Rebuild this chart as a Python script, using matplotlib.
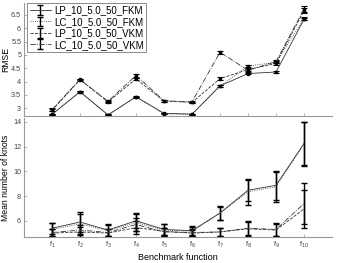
import matplotlib
matplotlib.use("Agg")
import matplotlib.pyplot as plt
import numpy as np

functions = ["f$_{1}$", "f$_{2}$", "f$_{3}$", "f$_{4}$", "f$_{5}$",
             "f$_{6}$", "f$_{7}$", "f$_{8}$", "f$_{9}$", "f$_{10}$"]
series_names = ["LP_10_5.0_50_FKM", "LC_10_5.0_50_FKM",
                "LP_10_5.0_50_VKM", "LC_10_5.0_50_VKM"]

rmse_lp_fkm = [2.77, 3.62, 2.75, 3.43, 2.81, 2.78, 3.84, 4.30, 4.36, 6.33]
rmse_lc_fkm = [2.77, 3.61, 2.75, 3.42, 2.79, 2.77, 3.83, 4.58, 4.72, 6.36]
rmse_lp_vkm = [2.92, 4.07, 3.24, 4.10, 3.27, 3.22, 4.11, 4.45, 4.68, 6.66]
rmse_lc_vkm = [2.95, 4.08, 3.26, 4.23, 3.28, 3.24, 5.10, 4.42, 4.75, 6.72]
rmse_err_lp_fkm = [0.02, 0.02, 0.02, 0.02, 0.02, 0.02, 0.03, 0.03, 0.03, 0.04]
rmse_err_lc_fkm = [0.02, 0.02, 0.02, 0.02, 0.02, 0.02, 0.03, 0.04, 0.04, 0.05]
rmse_err_lp_vkm = [0.04, 0.03, 0.03, 0.05, 0.03, 0.03, 0.05, 0.05, 0.05, 0.08]
rmse_err_lc_vkm = [0.05, 0.03, 0.04, 0.06, 0.03, 0.03, 0.06, 0.05, 0.05, 0.12]

knots_lp_fkm = [5.40, 5.90, 5.25, 6.00, 5.30, 5.20, 6.63, 8.47, 8.87, 12.25]
knots_lc_fkm = [5.30, 5.75, 5.20, 5.85, 5.25, 5.15, 6.60, 8.35, 8.75, 12.20]
knots_lp_vkm = [5.00, 5.10, 5.00, 5.45, 5.15, 5.00, 5.10, 5.35, 5.25, 6.96]
knots_lc_vkm = [5.05, 5.25, 5.05, 5.70, 5.10, 5.05, 5.10, 5.40, 5.30, 7.39]
knots_err_lp_fkm = [0.45, 0.80, 0.45, 0.60, 0.45, 0.35, 0.55, 0.85, 1.15, 1.75]
knots_err_lc_fkm = [0.50, 0.80, 0.45, 0.70, 0.45, 0.35, 0.50, 1.05, 1.20, 1.80]
knots_err_lp_vkm = [0.30, 0.40, 0.30, 0.50, 0.30, 0.25, 0.35, 0.55, 0.50, 1.55]
knots_err_lc_vkm = [0.30, 0.40, 0.30, 0.50, 0.30, 0.25, 0.30, 0.55, 0.50, 1.65]

x = np.arange(1, len(functions) + 1)
styles = ["-", ":", "--", "-."]

plt.rcParams['font.family'] = ['Liberation Sans', 'DejaVu Sans']
fig = plt.figure(figsize=(3.5, 2.63), dpi=100)
ax1 = fig.add_axes([0.0686, 0.559, 0.88, 0.43])
ax2 = fig.add_axes([0.0686, 0.0989, 0.88, 0.452])

rmse = [rmse_lp_fkm, rmse_lc_fkm, rmse_lp_vkm, rmse_lc_vkm]
rmse_err = [rmse_err_lp_fkm, rmse_err_lc_fkm, rmse_err_lp_vkm, rmse_err_lc_vkm]
knots = [knots_lp_fkm, knots_lc_fkm, knots_lp_vkm, knots_lc_vkm]
knots_err = [knots_err_lp_fkm, knots_err_lc_fkm, knots_err_lp_vkm, knots_err_lc_vkm]

for name, ls, y, e in zip(series_names, styles, rmse, rmse_err):
    ax1.errorbar(x, y, yerr=e, linestyle=ls, color="#333333", linewidth=0.6,
                 marker="s", markersize=2.0, markerfacecolor="black",
                 markeredgecolor="black", ecolor="black", elinewidth=0.8,
                 capsize=2, capthick=0.8)
handles = []
for name, ls, y, e in zip(series_names, styles, knots, knots_err):
    h = ax2.errorbar(x, y, yerr=e, linestyle=ls, color="#333333", linewidth=0.6,
                     ecolor="black", elinewidth=1.0, capsize=2, capthick=1.0,
                     label=name)
    handles.append(h)

for ax in (ax1, ax2):
    ax.set_xlim(0, 11)
    ax.set_xticks(x)
    for s in ("top", "right"):
        ax.spines[s].set_visible(False)
    for s in ("left", "bottom"):
        ax.spines[s].set_color("#999999")
        ax.spines[s].set_linewidth(0.8)
    ax.tick_params(direction="in", length=2.5, width=0.5, colors="#999999",
                   labelsize=5.2, labelcolor="#444444", pad=2)

ax1.set_ylim(2.71, 6.95)
ax1.set_yticks([3, 3.5, 4, 4.5, 5, 5.5, 6, 6.5])
ax1.set_yticklabels(["3", "3.5", "4", "4.5", "5", "5.5", "6", "6.5"])
ax1.set_xticklabels([])
ax1.set_ylabel("RMSE", fontsize=6.2)
ax1.yaxis.set_label_coords(-0.045, 0.5)

ax2.set_ylim(4.69, 14.3)
ax2.set_yticks([6, 8, 10, 12, 14])
ax2.set_xticklabels(functions)
ax2.set_ylabel("Mean number of knots", fontsize=6.2)
ax2.yaxis.set_label_coords(-0.045, 0.5)
ax2.set_xlabel("Benchmark function", fontsize=6.5)
ax2.xaxis.set_label_coords(0.5, -0.135)

leg = ax1.legend(handles, series_names, loc="upper left", fontsize=7,
                 frameon=True, fancybox=False, edgecolor="#555555",
                 handlelength=2.2, borderpad=0.25, labelspacing=0.15,
                 handletextpad=0.3, borderaxespad=0.0,
                 bbox_to_anchor=(0.01, 1.0))
leg.get_frame().set_linewidth(0.6)

fig.savefig("out.png", dpi=100)
